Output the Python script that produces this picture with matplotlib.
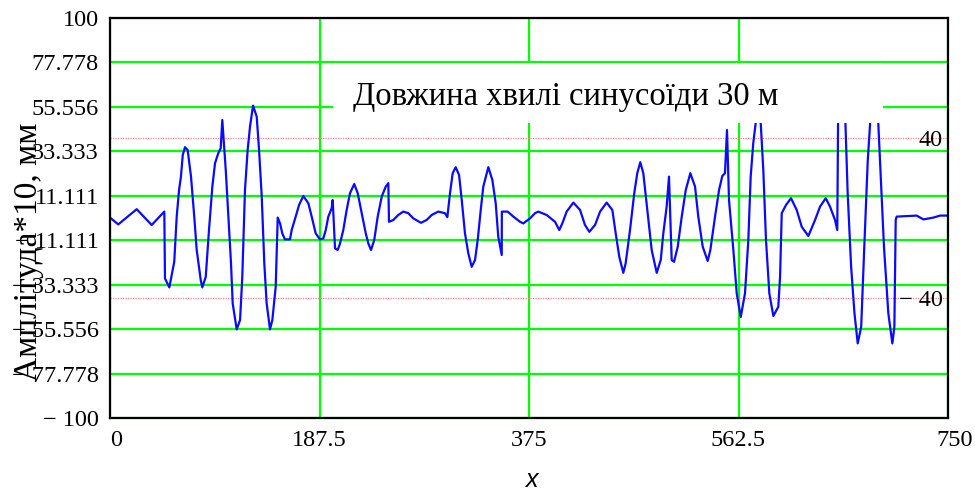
"""Wave amplitude trace with Mathcad-style gridding."""

import matplotlib

matplotlib.use("Agg")
import matplotlib.pyplot as plt
import matplotlib.transforms as mtransforms
from matplotlib.patches import Rectangle

# trace vertices, x in m, amplitude*10 in mm
x_vals = [
    0, 7.4, 23.9, 37.3, 48.6, 49.2, 53.1, 57.5, 59.7, 61.8,
    63.5, 65.1, 67.1, 69.5, 72.5, 75.4, 77.6, 81.2, 82.6, 85.7,
    88.6, 91.6, 94.0, 96.9, 99.1, 100.5, 103.6, 108.3, 109.8, 113.4,
    116.4, 118.4, 120.8, 123.2, 125.3, 128.0, 131.3, 133.4, 135.8, 138.1,
    140.2, 143.2, 145.3, 148.3, 149.5, 150.1, 152.2, 154.2, 156.6, 161.1,
    162.6, 166.2, 169.2, 173.0, 177.5, 180.5, 184.1, 188.0, 190.9, 193.1,
    195.4, 198.4, 199.3, 201.4, 203.8, 205.9, 208.8, 211.8, 214.8, 218.6,
    221.7, 225.3, 228.9, 231.2, 233.6, 236.5, 239.6, 243.2, 246.8, 249.1,
    249.7, 253.6, 258.0, 262.5, 267.0, 271.5, 278.3, 283.4, 287.9, 293.8,
    299.8, 301.9, 304.3, 306.7, 309.4, 312.4, 314.8, 317.7, 320.7, 323.7,
    326.7, 329.1, 331.8, 334.1, 338.6, 342.2, 345.2, 347.5, 350.6, 350.7,
    355.9, 361.0, 367.0, 369.9, 375.9, 380.4, 383.3, 390.8, 398.3, 402.1,
    404.8, 408.7, 414.7, 420.7, 425.1, 429.0, 434.1, 438.6, 444.5, 449.6,
    452.6, 455.8, 459.4, 461.5, 465.4, 469.2, 471.9, 474.6, 477.3, 480.9,
    484.8, 489.3, 492.9, 495.2, 498.2, 500.3, 502.7, 504.8, 508.1, 511.7,
    515.3, 519.4, 523.6, 526.5, 530.5, 534.9, 537.3, 541.5, 545.1, 548.0,
    550.4, 552.2, 554.0, 557.9, 560.9, 564.5, 568.3, 571.3, 573.4, 575.7,
    579.5, 582.4, 584.7, 587.1, 590.1, 593.7, 598.1, 599.7, 601.2, 605.0,
    609.5, 614.6, 619.1, 625.0, 631.0, 635.5, 640.6, 644.4, 648.9, 650.9,
    651.6, 654.8, 658.2, 660.2, 663.3, 666.3, 669.2, 672.3, 675.2, 678.2,
    680.3, 684.2, 687.6, 689.8, 692.7, 696.6, 700.2, 702.0, 703.2, 704.1,
    722.0, 728.0, 736.9, 742.9, 750.0,
]
amp_vals = [
    0.2, -3.2, 4.4, -3.5, 3.2, -30.2, -34.7, -21.9, 0.7, 14.0,
    20.7, 31.5, 35.4, 34.0, 20.7, 0.7, -16.0, -31.0, -34.7, -29.4,
    -6.0, 15.7, 27.4, 32.4, 34.9, 49.0, 24.0, -22.7, -42.7, -55.7,
    -51.0, -29.4, 14.0, 34.0, 45.7, 56.2, 50.7, 34.0, 10.7, -22.7,
    -42.7, -55.7, -51.0, -34.4, -11.0, 0.2, -2.7, -7.7, -10.7, -10.7,
    -6.0, 0.7, 6.5, 11.0, 7.4, 0.7, -7.7, -10.7, -10.2, -6.0,
    0.7, 4.9, 9.0, -15.2, -16.0, -12.7, -6.0, 4.0, 12.4, 17.0,
    12.4, 2.4, -7.7, -12.7, -16.0, -11.0, 0.7, 10.7, 15.7, 17.4,
    -1.9, -1.0, 1.5, 3.2, 2.4, -0.2, -2.4, -1.0, 1.5, 3.2,
    2.4, 0.4, 12.4, 22.4, 25.4, 21.5, 9.0, -7.7, -17.7, -24.4,
    -21.0, -11.0, 4.0, 15.7, 25.4, 19.0, 7.4, -9.4, -18.5, 3.2,
    3.2, 0.7, -1.9, -2.7, -0.2, 2.4, 3.2, 1.5, -1.9, -6.0,
    -2.7, 3.2, 7.7, 4.0, -3.5, -6.9, -3.5, 3.2, 7.7, 4.0,
    -7.7, -19.4, -27.4, -22.7, -6.0, 12.4, 22.4, 27.9, 22.4, 4.0,
    -16.0, -27.4, -21.0, -7.7, 5.7, 20.7, -21.0, -21.9, -14.4, 0.7,
    14.0, 22.4, 15.7, 0.7, -14.4, -21.5, -16.0, 0.7, 14.0, 21.0,
    22.4, 44.0, 9.0, -16.0, -37.7, -49.5, -37.7, -11.0, 20.7, 37.4,
    55.0, 47.4, 24.0, -11.0, -37.7, -49.0, -44.4, -29.4, 2.4, 6.5,
    9.9, 4.0, -4.4, -9.0, -1.0, 5.7, 9.9, 5.7, -1.0, -6.0,
    47.5, 60.0, 47.4, 12.4, -24.4, -47.7, -62.7, -54.4, -12.7, 29.0,
    47.4, 63.0, 47.4, 20.7, -14.4, -47.7, -62.7, -54.4, -1.0, 0.7,
    1.2, -0.7, 0.2, 1.2, 1.2,
]

x_ticks = [0, 187.5, 375, 562.5, 750]
x_tick_labels = ["0", "187.5", "375", "562.5", "750"]
y_ticks = [-100, -77.778, -55.556, -33.333, -11.111,
           11.111, 33.333, 55.556, 77.778, 100]
y_tick_labels = ["\u2212 100", "\u2212 77.778", "\u2212 55.556", "\u2212 33.333",
                 "\u2212 11.111", "11.111", "33.333", "55.556", "77.778", "100"]
limit_levels = [40, -40]
limit_labels = ["40", "\u2212 40"]

title_text = "Довжина хвилі синусоїди 30 м"
y_label = "Амплітуда*10, мм"
x_label = "x"

SERIF = "Liberation Serif"
GREEN = "#00ff00"

fig = plt.figure(figsize=(9.75, 4.92), dpi=100)
ax = fig.add_axes([110 / 975, 74 / 492, 838 / 975, 400 / 492])
ax.set_xlim(0, 750)
ax.set_ylim(-100, 100)

ax.set_xticks(x_ticks)
ax.set_xticklabels(x_tick_labels, fontfamily=SERIF, fontsize=17.5)
ax.set_yticks(y_ticks)
ax.set_yticklabels(y_tick_labels, fontfamily=SERIF, fontsize=17.5)
ax.tick_params(axis="both", length=0)
ax.tick_params(axis="x", pad=9)
ax.tick_params(axis="y", pad=8)

# nudge the end labels the way the original layout places them
xlabels = ax.get_xticklabels()
for lbl, dx in ((xlabels[0], 6), (xlabels[-1], 7)):
    lbl.set_transform(lbl.get_transform()
                      + mtransforms.ScaledTranslation(dx / 100, 0, fig.dpi_scale_trans))

ax.grid(True, color=GREEN, linewidth=1.6, zorder=1)
ax.set_axisbelow(True)

for level in limit_levels:
    ax.axhline(level, color="#ff8080", linewidth=0.9, linestyle=(0, (1, 1)), zorder=2)

ax.plot(x_vals, amp_vals, color="#0a0aff", linewidth=1.6, zorder=3)

for spine in ax.spines.values():
    spine.set_color("black")
    spine.set_linewidth(1.6)
    spine.set_zorder(6)

# caption panel over the plot
ax.add_patch(Rectangle((199.6, 47.5), 492.2, 30.0, facecolor="white",
                       edgecolor="none", zorder=4))
ax.text(408, 60.5, title_text, fontfamily=SERIF, fontsize=23.5,
        ha="center", va="center", zorder=5)

for level, text in zip(limit_levels, limit_labels):
    ax.text(745, level - 1, text, fontfamily=SERIF, fontsize=17.5,
            ha="right", va="center", zorder=5)

fig.text(29 / 975, 1 - 252 / 492, y_label, rotation=90, fontfamily=SERIF,
         fontsize=24, ha="center", va="center")
fig.text(532 / 975, 1 - 480 / 492, x_label, fontfamily="Liberation Sans",
         style="italic", fontsize=18, ha="center", va="center")

fig.savefig("out.png", dpi=100)
